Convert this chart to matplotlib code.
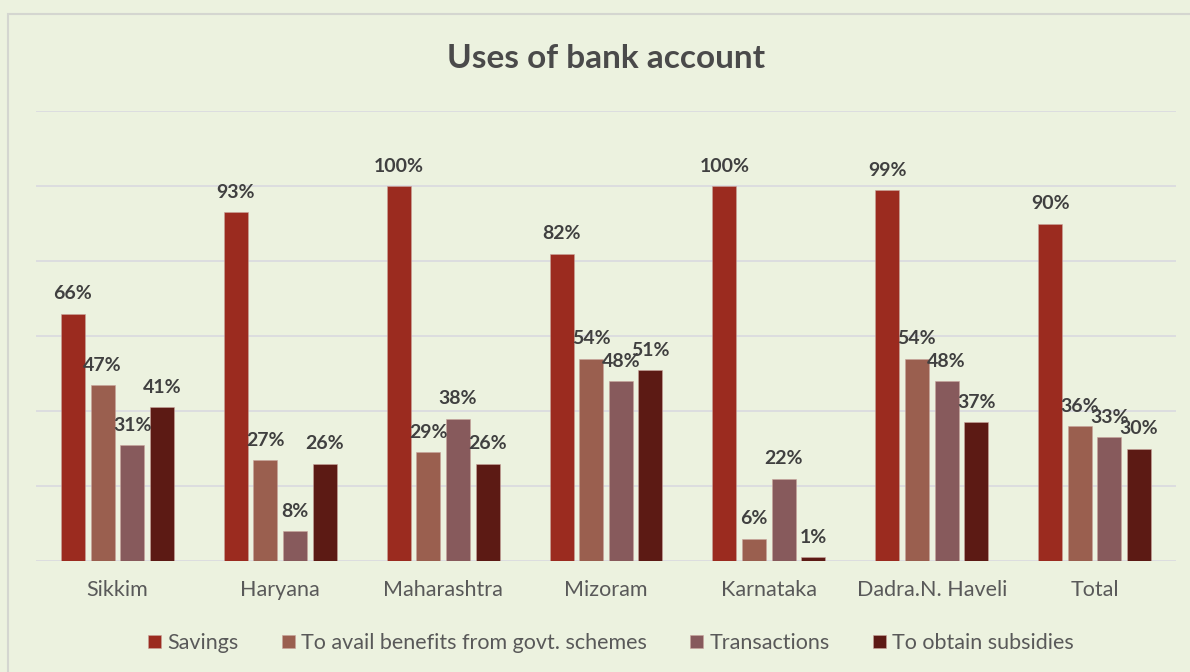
import numpy as np
import matplotlib.pyplot as plt
from matplotlib.patches import Rectangle

states = ['Sikkim', 'Haryana', 'Maharashtra', 'Mizoram', 'Karnataka', 'Dadra.N. Haveli', 'Total']
savings = [66, 93, 100, 82, 100, 99, 90]
benefits = [47, 27, 29, 54, 6, 54, 36]
transactions = [31, 8, 38, 48, 22, 48, 33]
subsidies = [41, 26, 26, 51, 1, 37, 30]

series_names = ['Savings', 'To avail benefits from govt. schemes', 'Transactions', 'To obtain subsidies']
colors = ['#9b2b1f', '#9a5f4f', '#875a5c', '#5c1a14']

plt.rcParams['font.family'] = ['Lato', 'DejaVu Sans']
bg = '#ecf2df'

fig = plt.figure(figsize=(11.9, 6.72), dpi=100)
fig.patch.set_facecolor(bg)

# chart frame
fig.patches.append(Rectangle((8 / 1190, -0.1), 1.2, 1.1 - 14 / 672, transform=fig.transFigure,
                             fill=False, edgecolor='#d4d6d0', linewidth=1.5))

ax = fig.add_axes([36 / 1190, 1 - 561 / 672, 1140 / 1190, 450 / 672])
ax.set_facecolor('none')

x = np.arange(len(states))
width = 0.147
step = 0.182
all_series = [savings, benefits, transactions, subsidies]

for i, (vals, name, c) in enumerate(zip(all_series, series_names, colors)):
    pos = x + (i - 1.5) * step
    bars = ax.bar(pos, np.array(vals) / 100, width, color=c, label=name,
                  edgecolor='#c9a49c', linewidth=0.4, zorder=3)
    for b, v in zip(bars, vals):
        ax.annotate(f"{v}%", xy=(b.get_x() + b.get_width() / 2, b.get_height()),
                    xytext=(0, 8), textcoords='offset points', ha='center', va='bottom',
                    fontsize=14, fontweight='bold', color='#404040', zorder=4)

ax.set_xlim(-0.5, len(states) - 0.5)
ax.set_ylim(0, 1.2)
ax.set_yticks(np.arange(0, 1.21, 0.2))
ax.yaxis.grid(True, color='#d9d9e0', linewidth=1.2, zorder=0)
ax.tick_params(axis='y', left=False, labelleft=False)
ax.set_xticks(x)
ax.set_xticklabels(states, fontsize=15.5, color='#595959')
ax.tick_params(axis='x', length=0, pad=14)
for s in ax.spines.values():
    s.set_visible(False)

fig.text(606 / 1190, 1 - 58 / 672, 'Uses of bank account', ha='center', va='center',
         fontsize=24, fontweight='bold', color='#4a4a4a')

leg = fig.legend(loc='center', bbox_to_anchor=(611 / 1190, 1 - 643 / 672), ncol=4,
                 frameon=False, fontsize=15.5, handlelength=0.6, handleheight=0.6,
                 handletextpad=0.3, columnspacing=2.0)
for t in leg.get_texts():
    t.set_color('#595959')

fig.savefig('out.png', dpi=100, facecolor=bg)
